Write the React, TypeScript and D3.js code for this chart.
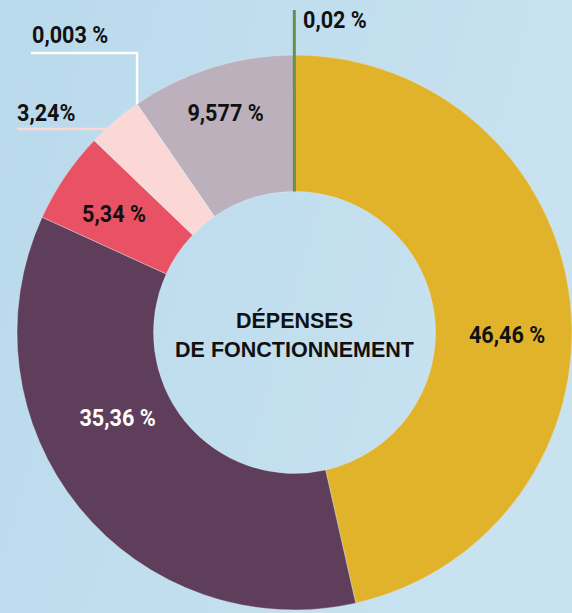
import React from "react";
import * as d3 from "d3";

const categories = ["A", "B", "C", "D", "E", "F", "G"];
const values = [46.46, 35.36, 5.34, 3.24, 0.003, 9.577, 0.02];
const labels = ["46,46 %", "35,36 %", "5,34 %", "3,24%", "0,003 %", "9,577 %", "0,02 %"];
const colors = ["#E0B32B", "#5F3E5C", "#E85264", "#FBD8D6", "#FFFFFF", "#BDB0BD", "#6A8E4E"];
const labelColors = ["#111", "#fff", "#111", "#111", "#111", "#111", "#111"];
const centerLines = ["DÉPENSES", "DE FONCTIONNEMENT"];

const W = 572;
const H = 613;
const CX = 294.5;
const CY = 332.5;
const R = 277.5;
const RI = 141;

// label anchor layout (x, baseline y, anchor)
const labelLayout: [number, number, string][] = [
  [507, 343, "middle"],
  [117.5, 426, "middle"],
  [114, 222, "middle"],
  [17, 121, "start"],
  [32, 43, "start"],
  [225.5, 121, "middle"],
  [303, 28, "start"],
];

export default function App() {
  const pie = d3.pie<number>().sort(null).value((d) => d)(values);
  const arc = d3.arc<d3.PieArcDatum<number>>().innerRadius(RI).outerRadius(R);

  const tiny = pie[4];
  const wx = R * Math.sin(tiny.startAngle);
  const wy = -R * Math.cos(tiny.startAngle);
  const pinkY = 129 - CY;
  const pinkX = -Math.sqrt(R * R - pinkY * pinkY);
  const g = pie[6];
  const gm = (g.startAngle + g.endAngle) / 2;

  return (
    <svg width={W} height={H} style={{ position: "absolute", left: 0, top: 0 }}>
      <defs>
        <linearGradient id="bg" x1="0" y1="0" x2="1" y2="0.3">
          <stop offset="0" stopColor="#B9DAEC" />
          <stop offset="1" stopColor="#C8E2F0" />
        </linearGradient>
      </defs>
      <rect width={W} height={H} fill="url(#bg)" />
      <g transform={`translate(${CX},${CY})`}>
        {pie.map((p, i) =>
          i === 6 ? null : (
            <path key={categories[i]} d={arc(p) || ""} fill={colors[i]} stroke="rgba(230,240,245,0.6)" strokeWidth={0.6} />
          )
        )}
        <line
          x1={RI * Math.sin(gm)}
          y1={-RI * Math.cos(gm)}
          x2={(10 - CY) * -Math.tan(gm)}
          y2={10 - CY}
          stroke={colors[6]}
          strokeWidth={3}
        />
        <polyline
          points={`${wx},${wy} ${wx},${53 - CY} ${31 - CX},${53 - CY}`}
          fill="none"
          stroke="#FFFFFF"
          strokeWidth={2.5}
        />
        <line x1={pinkX} y1={pinkY} x2={17 - CX} y2={pinkY} stroke={colors[3]} strokeWidth={2.5} />
      </g>
      {labels.map((t, i) => (
        <text
          key={t}
          transform={`translate(${labelLayout[i][0]},${labelLayout[i][1]}) scale(0.9,1)`}
          textAnchor={labelLayout[i][2] as any}
          fontFamily="Roboto, sans-serif"
          fontWeight={700}
          fontSize={24}
          fill={labelColors[i]}
        >
          {t}
        </text>
      ))}
      {centerLines.map((t, i) => (
        <text
          key={t}
          x={CX}
          y={328 + i * 29}
          textAnchor="middle"
          fontFamily="'Liberation Sans', Arial, sans-serif"
          fontWeight={700}
          fontSize={21.5}
          fill="#111"
        >
          {t}
        </text>
      ))}
    </svg>
  );
}
